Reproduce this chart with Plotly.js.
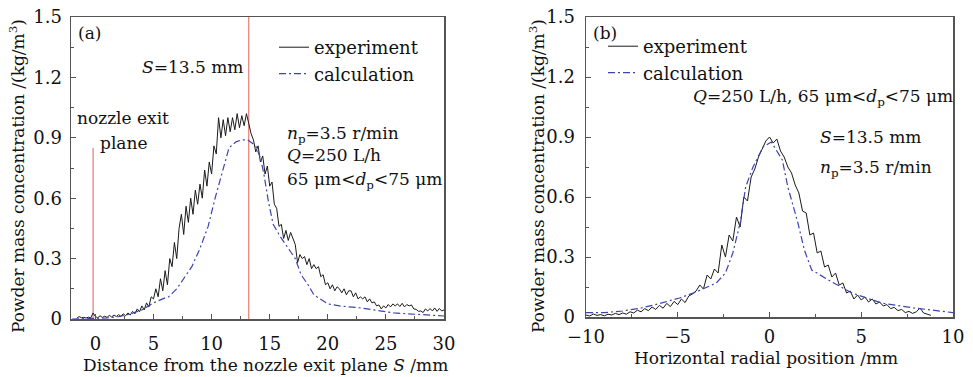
<!DOCTYPE html>
<html>
<head>
<meta charset="utf-8">
<script src="https://cdn.plot.ly/plotly-3.0.1.min.js"></script>
<style>
html,body{margin:0;padding:0;background:#ffffff;}
#chart{width:973px;height:377px;}
</style>
</head>
<body>
<div id="chart"></div>
<script>
// ---------- Panel (a): concentration along the axis ----------
const expA_x0 = -1.6;   // first sample position (mm)
const expA_dx = 0.2;    // sample spacing (mm)
const expA_y = [
  0.004, 0.012, 0.006, 0.008, 0.005, 0.009, 0.006, 0.03,
  0.012, 0.006, 0.016, 0.008, 0.014,
  0.008, 0.018, 0.01, 0.02, 0.012,
  0.022, 0.012, 0.026, 0.016, 0.03,
  0.02, 0.038, 0.026, 0.05, 0.036,
  0.065, 0.045, 0.08, 0.06, 0.11,
  0.1, 0.15, 0.11, 0.2, 0.14,
  0.24, 0.17, 0.3, 0.26, 0.38,
  0.3, 0.45, 0.52, 0.42, 0.56,
  0.48, 0.6, 0.52, 0.64, 0.57,
  0.67, 0.6, 0.74, 0.66, 0.78,
  0.72, 0.86, 0.82, 1.0, 0.9,
  0.99, 0.91, 1.0, 0.93, 1.0,
  0.94, 1.02, 0.95, 1.01, 0.96,
  1.02, 0.97, 0.92, 0.89, 0.83,
  0.86, 0.78, 0.81, 0.72, 0.76,
  0.66, 0.68, 0.57, 0.55, 0.46,
  0.47, 0.4, 0.44, 0.39, 0.43,
  0.4, 0.37, 0.28, 0.32, 0.3,
  0.31, 0.27, 0.3, 0.25, 0.27,
  0.25, 0.26, 0.21, 0.22, 0.17,
  0.18, 0.15, 0.17, 0.14, 0.16,
  0.15, 0.13, 0.15, 0.12, 0.14,
  0.14, 0.11, 0.13, 0.1, 0.11,
  0.1, 0.11, 0.085, 0.1, 0.08,
  0.085, 0.065, 0.07, 0.05, 0.065,
  0.055, 0.072, 0.06, 0.075, 0.065,
  0.075, 0.062, 0.078, 0.06, 0.072,
  0.065, 0.07, 0.05, 0.048, 0.038,
  0.04, 0.032, 0.05, 0.04, 0.052,
  0.04, 0.055, 0.038, 0.052, 0.04,
  0.045
];
const calcA_x = [-2, 0, 1, 2, 3, 4, 5, 6, 6.3, 7, 7.6, 8.3, 9, 9.7, 10.3, 10.8, 11.5, 12.1, 12.6, 13.1, 13.8, 14.2, 14.5, 14.9, 15.3, 15.9, 16.6, 17.2, 17.7, 18.3, 18.8, 19.3, 20, 21, 22.8, 25.7, 30];
const calcA_y = [0, 0.002, 0.005, 0.012, 0.025, 0.045, 0.08, 0.105, 0.11, 0.15, 0.2, 0.26, 0.35, 0.46, 0.6, 0.7, 0.85, 0.88, 0.89, 0.89, 0.86, 0.8, 0.72, 0.58, 0.47, 0.41, 0.35, 0.3, 0.22, 0.17, 0.12, 0.1, 0.075, 0.065, 0.055, 0.03, 0.015];
// reference lines: nozzle exit plane and S = 13.5 mm
const refLine_x = [-0.2, 13.2];
const refLine_top = [0.85, 1.5];

// ---------- Panel (b): radial profile ----------
const expB_x0 = -10;
const expB_dx = 0.2;
const expB_y = [
  0.01, 0.005, 0.015, 0.008, 0.012,
  0.006, 0.014, 0.01, 0.018, 0.012,
  0.02, 0.014, 0.026, 0.02, 0.034,
  0.026, 0.042, 0.032, 0.05, 0.038,
  0.058, 0.044, 0.068, 0.052, 0.078,
  0.062, 0.09, 0.072, 0.105, 0.115,
  0.13, 0.16, 0.14, 0.21, 0.19,
  0.24, 0.22, 0.36, 0.3, 0.41,
  0.38, 0.5, 0.45, 0.6, 0.58,
  0.7, 0.74, 0.8, 0.84, 0.88,
  0.9, 0.87, 0.89, 0.83, 0.8,
  0.75, 0.72, 0.66, 0.62, 0.53,
  0.52, 0.41, 0.42, 0.32, 0.33,
  0.25, 0.26, 0.2, 0.22, 0.16,
  0.17, 0.12, 0.13, 0.09, 0.11,
  0.085, 0.1, 0.075, 0.09, 0.065,
  0.075, 0.055, 0.062, 0.042, 0.048,
  0.032, 0.038, 0.022, 0.028, 0.018,
  0.026, 0.045, 0.02, 0.012, 0.008
];
const calcB_x = [-10, -9, -8, -7, -6.3, -4.9, -4, -2.9, -2.4, -2.0, -1.6, -1.3, -0.9, -0.35, 0.1, 0.7, 1.0, 1.55, 1.9, 2.3, 3.4, 4.5, 6.1, 7.9, 10];
const calcB_y = [0.022, 0.022, 0.03, 0.045, 0.06, 0.095, 0.125, 0.17, 0.22, 0.32, 0.47, 0.65, 0.75, 0.85, 0.875, 0.785, 0.65, 0.47, 0.335, 0.235, 0.175, 0.12, 0.07, 0.045, 0.022];

// axis ticks
const yTicks = [0, 0.3, 0.6, 0.9, 1.2, 1.5];
const xTicksA = [0, 5, 10, 15, 20, 25, 30];
const xTicksB = [-10, -5, 0, 5, 10];

const FONT = 'DejaVu Serif, Liberation Serif, serif';
const W = 973, H = 377;
const px = v => v / W;
const py = v => 1 - v / H;

const EXP_COLOR = '#1a1a1a';
const CALC_COLOR = '#3c44b0';
const RED = '#e0605a';
const CALC_DASH = '7px,3px,2px,3px';

// build red reference-line trace from the arrays
const refX = [], refY = [];
refLine_x.forEach((x, i) => { refX.push(x, x, null); refY.push(0, refLine_top[i], null); });

const traces = [
  {x: refX, y: refY, xaxis: 'x', yaxis: 'y', mode: 'lines', line: {color: RED, width: 1}, showlegend: false, hoverinfo: 'skip'},
  {y: expA_y, x0: expA_x0, dx: expA_dx, xaxis: 'x', yaxis: 'y', mode: 'lines', name: 'experiment',
   line: {color: EXP_COLOR, width: 1}, legend: 'legend'},
  {x: calcA_x, y: calcA_y, xaxis: 'x', yaxis: 'y', mode: 'lines', name: 'calculation',
   line: {color: CALC_COLOR, width: 1.2, dash: CALC_DASH}, legend: 'legend'},
  {y: expB_y, x0: expB_x0, dx: expB_dx, xaxis: 'x2', yaxis: 'y2', mode: 'lines', name: 'experiment',
   line: {color: EXP_COLOR, width: 1}, legend: 'legend2'},
  {x: calcB_x, y: calcB_y, xaxis: 'x2', yaxis: 'y2', mode: 'lines', name: 'calculation',
   line: {color: CALC_COLOR, width: 1.2, dash: CALC_DASH}, legend: 'legend2'}
];

const axisCommon = {
  showline: true, mirror: true, linecolor: '#555', linewidth: 1.5,
  showgrid: false, zeroline: false,
  ticks: 'inside', ticklen: 5, tickwidth: 1, tickcolor: '#555',
  tickfont: {family: FONT, size: 18, color: '#111'},
  fixedrange: true
};

const layout = {
  width: W, height: H,
  margin: {l: 0, r: 0, t: 0, b: 0},
  paper_bgcolor: '#ffffff', plot_bgcolor: '#ffffff',
  font: {family: FONT, size: 17, color: '#111'},
  xaxis: Object.assign({}, axisCommon, {
    domain: [px(71), px(444)], anchor: 'y', range: [-2.1, 30],
    tickmode: 'array', tickvals: xTicksA,
    minor: {dtick: 2.5, tick0: 0, ticks: 'inside', ticklen: 3, tickcolor: '#555'},
    ticklabelstandoff: 8
  }),
  yaxis: Object.assign({}, axisCommon, {
    domain: [1 - 319 / H, 1 - 17 / H], anchor: 'x', range: [0, 1.5],
    tickmode: 'array', tickvals: yTicks,
    minor: {dtick: 0.15, tick0: 0, ticks: 'inside', ticklen: 3, tickcolor: '#555'},
    ticklabelstandoff: 4
  }),
  xaxis2: Object.assign({}, axisCommon, {
    domain: [px(586), px(953)], anchor: 'y2', range: [-10, 10],
    tickmode: 'array', tickvals: xTicksB,
    minor: {dtick: 2.5, tick0: 0, ticks: 'inside', ticklen: 3, tickcolor: '#555'},
    ticklabelstandoff: 3
  }),
  yaxis2: Object.assign({}, axisCommon, {
    domain: [1 - 317 / H, 1 - 17 / H], anchor: 'x2', range: [0, 1.5],
    tickmode: 'array', tickvals: yTicks,
    minor: {dtick: 0.15, tick0: 0, ticks: 'inside', ticklen: 3, tickcolor: '#555'},
    ticklabelstandoff: 6
  }),
  legend: {
    x: px(274), y: py(29), xanchor: 'left', yanchor: 'top',
    bgcolor: 'rgba(0,0,0,0)', borderwidth: 0,
    font: {family: FONT, size: 18, color: '#111'}
  },
  legend2: {
    x: px(603), y: py(28), xanchor: 'left', yanchor: 'top',
    bgcolor: 'rgba(0,0,0,0)', borderwidth: 0,
    font: {family: FONT, size: 18, color: '#111'}
  },
  annotations: []
};

function ann(text, x, y, opts) {
  return Object.assign({
    text: text, xref: 'paper', yref: 'paper', x: px(x), y: py(y),
    xanchor: 'left', yanchor: 'middle', showarrow: false,
    font: {family: FONT, size: 17, color: '#111'}
  }, opts || {});
}
const DP = '65 μm&lt;<i>d</i><sub>p</sub>&lt;75 μm';
layout.annotations.push(
  ann('(a)', 76, 33),
  ann('<i>S</i>=13.5 mm', 140, 67),
  ann('nozzle exit', 75, 118),
  ann('plane', 98, 143),
  ann('<i>n</i><sub>p</sub>=3.5 r/min', 285, 135),
  ann('<i>Q</i>=250 L/h', 285, 155),
  ann(DP, 285, 181),
  ann('(b)', 591, 33),
  ann('<i>Q</i>=250 L/h, ' + DP, 691, 97),
  ann('<i>S</i>=13.5 mm', 818, 137),
  ann('<i>n</i><sub>p</sub>=3.5 r/min', 818, 168),
  // axis titles
  ann('Distance from the nozzle exit plane <i>S</i> /mm', 265, 365, {xanchor: 'center'}),
  ann('Horizontal radial position /mm', 766, 358, {xanchor: 'center'}),
  ann('Powder mass concentration /(kg/m<sup>3</sup>)', 17, 176, {xanchor: 'center', textangle: -90}),
  ann('Powder mass concentration /(kg/m<sup>3</sup>)', 537, 176, {xanchor: 'center', textangle: -90})
);

Plotly.newPlot('chart', traces, layout, {staticPlot: true, displayModeBar: false});
</script>
</body>
</html>
